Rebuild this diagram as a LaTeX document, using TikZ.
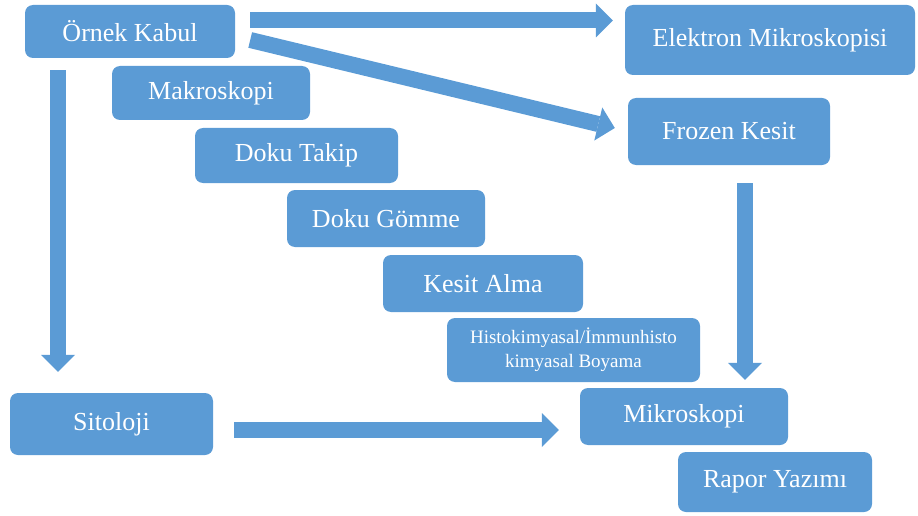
\documentclass[tikz,border=0pt]{standalone}
\usepackage{fontspec}
\setmainfont{Liberation Serif}
\usetikzlibrary{arrows.meta, calc}
\definecolor{cBlue}{RGB}{91,155,213}

\begin{document}
\begin{tikzpicture}[x=1pt, y=-1pt,
            box/.style={rectangle, rounded corners=8pt, fill=cBlue, text=white, inner sep=0pt, align=center, font=\fontsize{26}{30}\selectfont},
            flow/.style={draw=cBlue, line width=16pt, -{Triangle[width=34pt, length=17pt, line width=0pt]}}]
            \useasboundingbox (0,0) rectangle (918,516);
            \node[box, minimum width=210pt, minimum height=53pt] (ornek)  at (130,31.5)   {Örnek Kabul};
            \node[box, minimum width=290pt, minimum height=70pt] (elek)   at (770,40)     {Elektron Mikroskopisi};
            \node[box, minimum width=198pt, minimum height=54pt] (makro)  at (211,93)     {Makroskopi};
            \node[box, minimum width=202pt, minimum height=67pt] (frozen) at (729,131.5)  {Frozen Kesit};
            \node[box, minimum width=203pt, minimum height=55pt] (takip)  at (296.5,155.5) {Doku Takip};
            \node[box, minimum width=198pt, minimum height=57pt] (gomme)  at (386,218.5)  {Doku Gömme};
            \node[box, minimum width=200pt, minimum height=57pt] (kesit)  at (483,283.5)  {Kesit Alma};
            \node[box, minimum width=253pt, minimum height=64pt, font=\fontsize{19}{24}\selectfont] (histo) at (573.5,350) {Histokimyasal/İmmunhisto\\kimyasal Boyama};
            \node[box, minimum width=203pt, minimum height=62pt] (sito)   at (111.5,424)  {Sitoloji};
            \node[box, minimum width=208pt, minimum height=57pt] (mikro)  at (684,416.5)  {Mikroskopi};
            \node[box, minimum width=194pt, minimum height=60pt] (rapor)  at (775,482)    {Rapor Yazımı};
            % arrows
            \draw[flow, shorten >=12pt] ([xshift=15pt,yshift=11pt]ornek.east) -- ([yshift=11pt]ornek.east -| elek.west);
            \draw[flow] ([xshift=15pt,yshift=-8.5pt]ornek.east) -- ([xshift=-13pt,yshift=3.5pt]frozen.west);
            \draw[flow, shorten >=21pt] ([xshift=-72pt,yshift=-12pt]ornek.south) -- ([xshift=-72pt]ornek.south |- sito.north);
            \draw[flow, shorten >=8pt] ([xshift=16pt,yshift=-18pt]frozen.south) -- ([xshift=16pt]frozen.south |- mikro.north);
            \draw[flow, shorten >=21pt] ([xshift=21pt,yshift=-6pt]sito.east) -- ([yshift=-6pt]sito.east -| mikro.west);
        \end{tikzpicture}
\end{document}
